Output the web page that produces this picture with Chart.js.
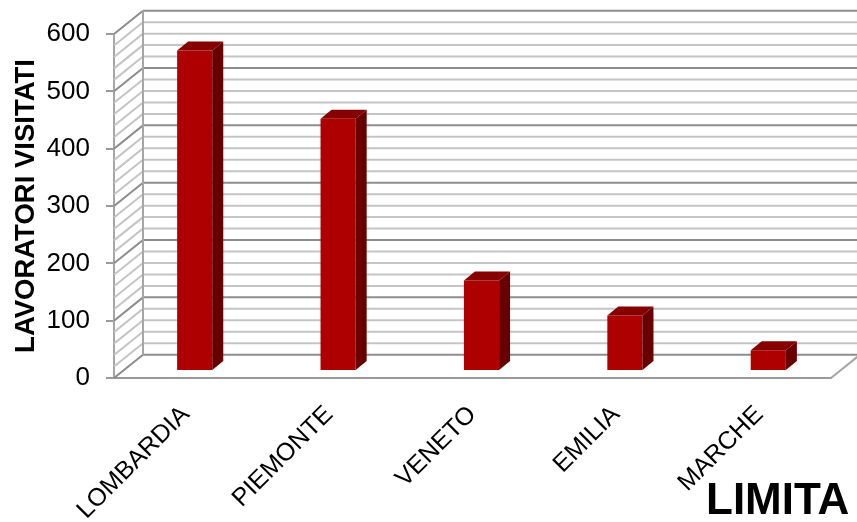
<!DOCTYPE html>
<html>
<head>
<meta charset="utf-8">
<script src="https://cdn.jsdelivr.net/npm/chart.js"></script>
<style>
  html, body { margin: 0; padding: 0; background: #ffffff; }
  #wrap { width: 857px; height: 522px; position: relative; }
</style>
</head>
<body>
<div id="wrap"><canvas id="chart"></canvas></div>
<script>
// regions and number of workers visited
const regions = ['LOMBARDIA', 'PIEMONTE', 'VENETO', 'EMILIA', 'MARCHE'];
const visitati = [559, 440, 158, 97, 36];
const yRange = [0, 600];
const yStep = 100;
const wallStep = 20;

const FONT = '"Liberation Sans", Arial, sans-serif';

// 3d look: wall depth, where the bars sit in it, and bar thickness in depth
const WALL = { dx: 29, dy: -23.3 };
const BAR_PLANE = { dx: 9, dy: -7 };
const BAR_DEPTH = { dx: 11, dy: -9 };

const box3d = {
    id: 'box3d',
    beforeDatasetsDraw(chart) {
        const { ctx, chartArea: a, scales: { y } } = chart;
        const W = chart.width;

        ctx.save();
        ctx.lineWidth = 2;
        for (let v = yRange[0]; v <= yRange[1]; v += wallStep) {
            const py = y.getPixelForValue(v);
            ctx.strokeStyle = v % yStep === 0 ? '#8c8c8c' : '#c4c4c4';
            // back wall line
            ctx.beginPath();
            ctx.moveTo(a.left + WALL.dx, py + WALL.dy);
            ctx.lineTo(W, py + WALL.dy);
            ctx.stroke();
            // side wall diagonal
            ctx.beginPath();
            ctx.moveTo(a.left, py);
            ctx.lineTo(a.left + WALL.dx, py + WALL.dy);
            ctx.stroke();
        }
        // back edge of the side wall
        ctx.strokeStyle = '#a6a6a6';
        ctx.beginPath();
        ctx.moveTo(a.left + WALL.dx, y.getPixelForValue(yRange[1]) + WALL.dy);
        ctx.lineTo(a.left + WALL.dx, y.getPixelForValue(0) + WALL.dy);
        ctx.stroke();
        // right edge of the floor
        ctx.beginPath();
        ctx.moveTo(a.right, a.bottom);
        ctx.lineTo(a.right + WALL.dx, a.bottom + WALL.dy);
        ctx.stroke();
        ctx.restore();

        // bars stand part way into the depth
        ctx.save();
        ctx.translate(BAR_PLANE.dx, BAR_PLANE.dy);
    },
    afterDatasetsDraw(chart) {
        const { ctx } = chart;
        const meta = chart.getDatasetMeta(0);
        meta.data.forEach(bar => {
            const { x, y, base, width } = bar.getProps(['x', 'y', 'base', 'width'], true);
            const l = x - width / 2, r = x + width / 2;
            const { dx, dy } = BAR_DEPTH;
            // top face
            ctx.fillStyle = '#860000';
            ctx.beginPath();
            ctx.moveTo(l, y);
            ctx.lineTo(l + dx, y + dy);
            ctx.lineTo(r + dx, y + dy);
            ctx.lineTo(r, y);
            ctx.closePath();
            ctx.fill();
            // side face
            ctx.fillStyle = '#680000';
            ctx.beginPath();
            ctx.moveTo(r, y);
            ctx.lineTo(r + dx, y + dy);
            ctx.lineTo(r + dx, base + dy);
            ctx.lineTo(r, base);
            ctx.closePath();
            ctx.fill();
        });
        ctx.restore();
    },
    afterDraw(chart) {
        const { ctx } = chart;
        ctx.save();
        ctx.fillStyle = '#000000';
        ctx.font = 'bold 44px ' + FONT;
        ctx.textBaseline = 'alphabetic';
        ctx.fillText('LIMITA', 706, 514);
        ctx.restore();
    }
};

new Chart(document.getElementById('chart'), {
    type: 'bar',
    data: {
        labels: regions,
        datasets: [{
            label: 'LAVORATORI VISITATI',
            data: visitati,
            backgroundColor: '#ae0000',
            borderWidth: 0,
            barPercentage: 0.245,
            categoryPercentage: 1,
            clip: false
        }]
    },
    options: {
        responsive: true,
        maintainAspectRatio: false,
        animation: false,
        layout: { padding: { top: 34, right: 26, left: 0, bottom: 0 } },
        plugins: {
            legend: { display: false },
            tooltip: { enabled: false }
        },
        scales: {
            x: {
                grid: { display: false },
                border: { display: true, color: '#9a9a9a', width: 2 },
                ticks: {
                    color: '#000000',
                    font: { family: FONT, size: 25 },
                    minRotation: 45,
                    maxRotation: 45,
                    padding: 14,
                    autoSkip: false
                },
                afterFit(scale) { scale.height = 144; }
            },
            y: {
                min: yRange[0],
                max: yRange[1],
                grid: {
                    drawOnChartArea: false,
                    drawTicks: true,
                    tickLength: 8,
                    color: '#9a9a9a',
                    lineWidth: 2
                },
                border: { display: true, color: '#a6a6a6', width: 2 },
                ticks: {
                    stepSize: yStep,
                    color: '#000000',
                    font: { family: FONT, size: 26 },
                    padding: 16
                },
                title: {
                    display: true,
                    text: 'LAVORATORI VISITATI',
                    color: '#000000',
                    font: { family: FONT, size: 27.5, weight: 'bold' },
                    padding: { top: 10, bottom: 0 }
                },
                afterFit(scale) { scale.width = 114; }
            }
        }
    },
    plugins: [box3d]
});
</script>
</body>
</html>
